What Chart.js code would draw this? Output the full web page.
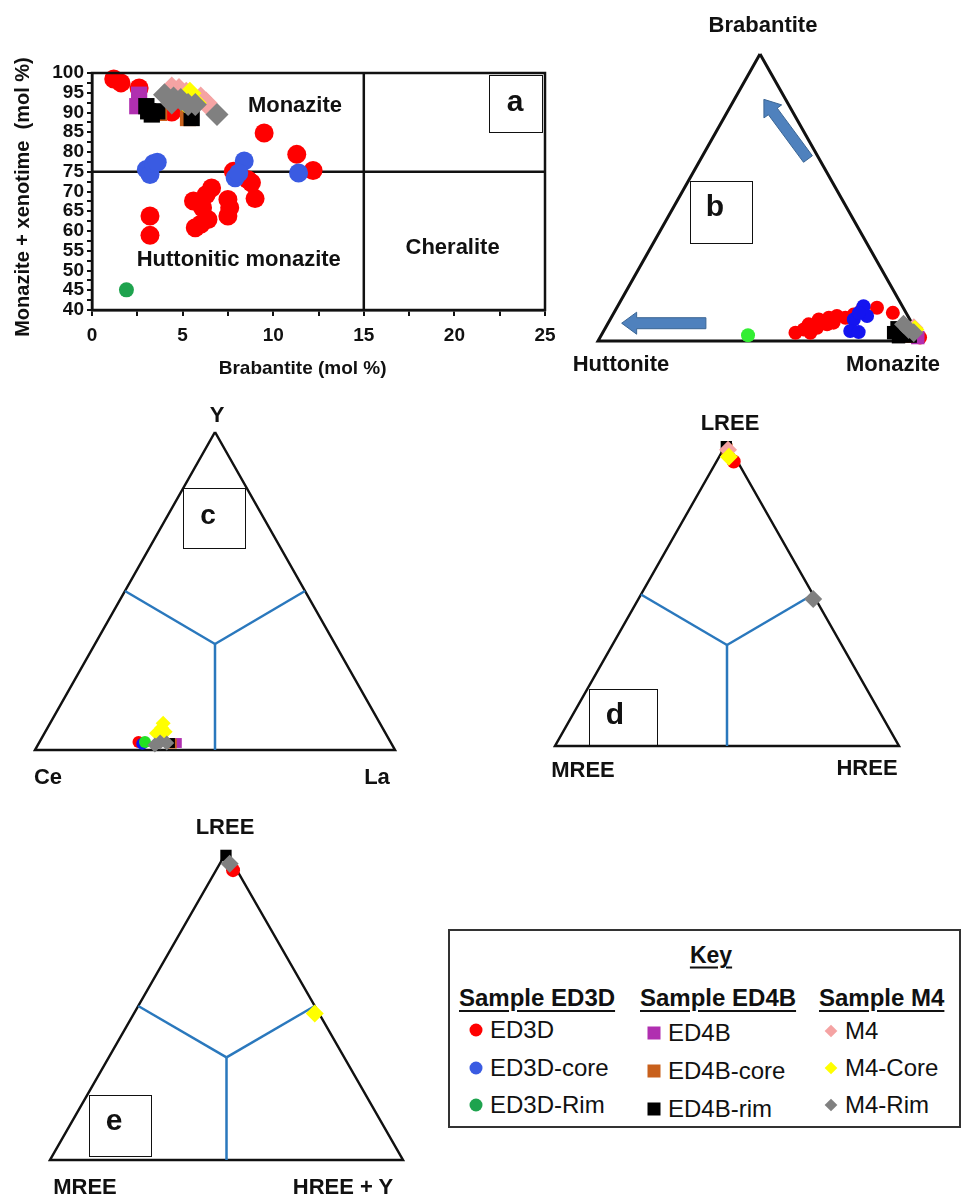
<!DOCTYPE html>
<html>
<head>
<meta charset="utf-8">
<script src="https://cdn.jsdelivr.net/npm/chart.js@4.4.1/dist/chart.umd.min.js"></script>
<style>
html,body{margin:0;padding:0;background:#fff;}
body{position:relative;width:964px;height:1197px;overflow:hidden;font-family:"Liberation Sans",Arial,Helvetica,sans-serif;color:#111;}
canvas{position:absolute;display:block;}
.t{position:absolute;white-space:nowrap;line-height:1;transform:translate(-50%,-50%);font-weight:bold;font-size:22px;}
.pbox{position:absolute;border:1.5px solid #111;box-sizing:border-box;}
.pl{position:absolute;font-weight:bold;font-size:30px;line-height:1;transform:translate(-50%,-50%);}
.k{position:absolute;white-space:nowrap;line-height:1;transform:translateY(-50%);font-size:24px;}
.kh{font-weight:bold;text-decoration:underline;text-decoration-thickness:2px;text-underline-offset:4px;}
.mk{position:absolute;transform:translate(-50%,-50%);}
</style>
</head>
<body>
<canvas id="ca" width="570" height="350" style="left:0;top:40px;width:570px;height:350px"></canvas>
<canvas id="cb" width="364" height="327" style="left:578px;top:34px;width:364px;height:327px"></canvas>
<canvas id="cc" width="400" height="358" style="left:15px;top:412px;width:400px;height:358px"></canvas>
<canvas id="cd" width="384" height="343" style="left:535px;top:423px;width:384px;height:343px"></canvas>
<canvas id="ce" width="393" height="348" style="left:30px;top:832px;width:393px;height:348px"></canvas>

<!-- panel letter boxes -->
<div class="pbox" style="left:489px;top:75px;width:54px;height:58px"></div><div class="pl" style="left:515px;top:101px">a</div>
<div class="pbox" style="left:690px;top:181px;width:63px;height:63px"></div><div class="pl" style="left:715px;top:206px">b</div>
<div class="pbox" style="left:183px;top:488px;width:63px;height:61px"></div><div class="pl" style="left:208px;top:515px;font-size:28px">c</div>
<div class="pbox" style="left:589px;top:689px;width:69px;height:57px"></div><div class="pl" style="left:615px;top:714px">d</div>
<div class="pbox" style="left:89px;top:1095px;width:63px;height:62px"></div><div class="pl" style="left:114px;top:1120px">e</div>

<!-- ternary vertex labels -->
<div class="t" style="left:763px;top:25px">Brabantite</div>
<div class="t" style="left:621px;top:364px">Huttonite</div>
<div class="t" style="left:893px;top:364px">Monazite</div>
<div class="t" style="left:217px;top:415px">Y</div>
<div class="t" style="left:48px;top:777px">Ce</div>
<div class="t" style="left:377px;top:777px">La</div>
<div class="t" style="left:730px;top:423px">LREE</div>
<div class="t" style="left:583px;top:770px">MREE</div>
<div class="t" style="left:867px;top:768px">HREE</div>
<div class="t" style="left:225px;top:827px">LREE</div>
<div class="t" style="left:85px;top:1187px">MREE</div>
<div class="t" style="left:343px;top:1187px">HREE + Y</div>

<!-- key -->
<div style="position:absolute;left:448px;top:929px;width:513px;height:199px;border:2px solid #333;box-sizing:border-box"></div>
<div class="k kh" style="left:711px;top:955px;transform:translate(-50%,-50%);font-size:23px">Key</div>
<div class="k kh" style="left:459px;top:998px">Sample ED3D</div>
<div class="k kh" style="left:640px;top:998px">Sample ED4B</div>
<div class="k kh" style="left:819px;top:998px">Sample M4</div>
<div id="keyItems"></div>

<script>
// ---------------- series definitions ----------------
const seriesNames  = ['ED3D','ED3D-core','ED3D-Rim','ED4B','ED4B-core','ED4B-rim','M4','M4-Core','M4-Rim'];
const seriesColors = ['#ff0000','#3a5be2','#1ea34e','#b02fb0','#c8601c','#000000','#f5a3a3','#ffff00','#808080'];
const seriesShapes = ['circle','circle','circle','rect','rect','rect','rectRot','rectRot','rectRot'];

// ---------------- panel a : Brabantite (x) vs Monazite + xenotime (y), mol % ----------------
const aX_ED3D  = [1.2,1.6,2.6,9.5,11.3,12.2,7.8,8.6,8.8,9.0,6.6,6.3,5.6,6.1,6.4,5.7,6.0,7.5,7.5,7.6,3.2,3.2,4.4];
const aY_ED3D  = [98.5,97.5,96.2,84.8,79.4,75.3,75.1,73.0,72.2,68.2,70.9,69.2,67.6,65.9,62.9,60.8,61.7,68.0,63.8,65.9,63.8,58.9,90.1];
const aX_ED3Dc = [3.0,3.2,3.4,3.6,8.4,7.9,8.1,11.4];
const aY_ED3Dc = [75.6,74.3,77.1,77.4,77.7,73.5,74.7,74.7];
const aX_ED3Dr = [1.9];
const aY_ED3Dr = [45.1];
const aX_ED4B  = [2.6,2.5];
const aY_ED4B  = [94.5,91.6];
const aX_ED4Bc = [5.3,3.7];
const aY_ED4Bc = [88.6,89.9];
const aX_ED4Br = [3.0,3.3,3.6,5.5,3.1];
const aY_ED4Br = [91.6,89.5,90.3,88.6,90.3];
const aX_M4    = [4.4,4.8,5.2,6.0,6.3];
const aY_M4    = [96.2,95.8,94.9,93.7,92.4];
const aX_M4c   = [5.4,5.7,5.1];
const aY_M4c   = [94.9,92.4,92.8];
const aX_M4r   = [4.0,4.5,4.9,5.7,6.9,4.4,5.3];
const aY_M4r   = [94.5,93.7,93.3,92.0,89.5,92.4,92.0];
const aXs = [aX_ED3D,aX_ED3Dc,aX_ED3Dr,aX_ED4B,aX_ED4Bc,aX_ED4Br,aX_M4,aX_M4c,aX_M4r];
const aYs = [aY_ED3D,aY_ED3Dc,aY_ED3Dr,aY_ED4B,aY_ED4Bc,aY_ED4Br,aY_M4,aY_M4c,aY_M4r];
const aFieldX = [15];   // Brabantite boundary
const aFieldY = [75];   // Monazite + xenotime boundary
const aXTicks = [0,5,10,15,20,25];
const aYTicks = [40,45,50,55,60,65,70,75,80,85,90,95,100];
const aFieldLabels = [
  {text:'Monazite', x:11.2, y:91.6},
  {text:'Huttonitic monazite', x:8.1, y:52.8},
  {text:'Cheralite', x:19.9, y:55.8}
];

// ---------------- panel b : [Brabantite, Huttonite, Monazite] % ----------------
const b_ED3D  = [[2.9,37.6,59.5],[2.9,33.0,64.1],[5.8,32.1,62.1],[7.5,28.1,64.4],[5.8,26.4,67.8],[8.1,24.7,67.2],[8.7,21.9,69.4],[8.1,19.6,72.3],[9.2,16.5,74.3],[11.0,13.0,76.0],[11.6,8.1,80.3],[9.8,4.1,86.1],[1.2,0.0,98.8],[4.6,30.1,65.3],[6.4,24.1,69.5],[4.0,34.5,61.5]];
const b_ED3Dc = [[12.1,12.0,75.9],[8.7,12.6,78.7],[7.5,17.3,75.2],[3.5,20.4,76.1],[3.1,18.0,78.9],[9.8,14.6,75.6]];
const b_ED3Dr = [[2.0,52.7,45.3]];
const b_ED4B  = [[1.2,0.7,98.1]];
const b_ED4Bc = [[1.7,3.8,94.5]];
const b_ED4Br = [[2.9,7.3,89.8],[4.6,5.4,90.0],[2.3,4.5,93.2],[1.7,2.8,95.5],[1.5,6.5,92.0]];
const b_M4    = [[4.6,0.2,95.2]];
const b_M4c   = [[4.0,0.2,95.8]];
const b_M4r   = [[5.8,2.8,91.4],[4.0,2.1,93.9],[2.9,1.1,96.0]];

// ---------------- panel c : [Y, Ce, La] % ----------------
const c_ED3D  = [[2.5,70.0,27.5]];
const c_ED3Dc = [[2.0,69.2,28.8]];
const c_ED3Dr = [[2.5,68.2,29.3]];
const c_ED4B  = [[2.2,59.5,38.3]];
const c_ED4Bc = [[2.0,61.0,37.0]];
const c_ED4Br = [[2.2,61.4,36.4]];
const c_M4    = [[3.0,63.5,33.5]];
const c_M4c   = [[6.9,61.4,31.7],[5.3,63.6,31.1],[5.7,61.0,33.3],[8.4,60.2,31.4]];
const c_M4r   = [[2.5,64.0,33.5],[2.2,62.3,35.5],[1.6,65.9,32.5]];

// ---------------- panel d : [LREE, MREE, HREE] % ----------------
const d_ED3D  = [[93.9,1.1,5.0]];
const d_ED4Bc = [[98.0,1.0,1.0]];
const d_ED4Br = [[98.8,0.8,0.4]];
const d_M4    = [[97.8,0.8,1.4]];
const d_M4c   = [[95.5,1.7,2.8]];
const d_M4r   = [[48.5,0.7,50.8]];

// ---------------- panel e : [LREE, MREE, HREE + Y] % ----------------
const e_ED3D  = [[94.1,1.1,4.8]];
const e_ED4Br = [[98.9,0.7,0.4]];
const e_M4c   = [[47.6,1.2,51.2]];
const e_M4r   = [[96.2,1.0,2.8]];

// ternary frame and field boundaries
const triVertices = [[100,0,0],[0,100,0],[0,0,100],[100,0,0]];
const fieldCentre = [100/3,100/3,100/3];
const fieldMidpoints = [[50,50,0],[50,0,50],[0,50,50]];

// ---------------- helpers ----------------
function tern(p){ const s=p[0]+p[1]+p[2]; return {x:p[2]/s + 0.5*p[0]/s, y:p[0]/s}; }

const framePlugin = {
  id:'frame',
  afterDatasetsDraw(chart){
    const {ctx, chartArea:a} = chart;
    ctx.save(); ctx.strokeStyle='#111'; ctx.lineWidth=2.5;
    ctx.strokeRect(a.left, a.top, a.right-a.left, a.bottom-a.top);
    ctx.restore();
  }
};
const fieldLabelPlugin = {
  id:'fieldLabels',
  afterDatasetsDraw(chart){
    const {ctx, scales:{x,y}} = chart;
    ctx.save(); ctx.fillStyle='#111'; ctx.font='bold 22px "Liberation Sans", Arial, sans-serif';
    ctx.textAlign='center'; ctx.textBaseline='middle';
    aFieldLabels.forEach(l=>ctx.fillText(l.text, x.getPixelForValue(l.x), y.getPixelForValue(l.y)));
    ctx.restore();
  }
};

// ---------------- panel a chart ----------------
const radiusA = {circle:9.5, rect:11.5, rectRot:11.5};
const aDatasets = [
  {data:[{x:aFieldX[0],y:40},{x:aFieldX[0],y:100}], showLine:true, borderColor:'#111', borderWidth:2.5, pointRadius:0, order:100},
  {data:[{x:0,y:aFieldY[0]},{x:25,y:aFieldY[0]}], showLine:true, borderColor:'#111', borderWidth:2.5, pointRadius:0, order:100}
];
seriesNames.forEach((n,i)=>{
  aDatasets.push({
    label:n, data:aXs[i].map((v,j)=>({x:v,y:aYs[i][j]})),
    pointStyle:seriesShapes[i], backgroundColor:seriesColors[i], borderWidth:0,
    pointRadius: (i===2?7.5:radiusA[seriesShapes[i]]), order: 20-i, clip:false
  });
});
const tickFont = {family:'"Liberation Sans", Arial, sans-serif', size:19, weight:'bold'};
new Chart(document.getElementById('ca'), {
  type:'scatter',
  data:{datasets:aDatasets},
  options:{
    responsive:false, animation:false, devicePixelRatio:1,
    layout:{padding:{top:33,right:25,bottom:6,left:8}},
    plugins:{legend:{display:false}, tooltip:{enabled:false}},
    scales:{
      x:{type:'linear', min:0, max:25,
        afterBuildTicks(s){ s.ticks = []; for(let v=0; v<=25; v+=2.5) s.ticks.push({value:v}); },
        ticks:{autoSkip:false, maxRotation:0, color:'#111', font:tickFont, padding:8,
          callback:v=> aXTicks.includes(v) ? String(v) : ''},
        grid:{drawOnChartArea:false, drawTicks:true, tickLength:6, color:'#111', lineWidth:2},
        border:{display:true, color:'#111', width:2.5},
        title:{display:true, text:'Brabantite (mol %)      ', color:'#111', font:{family:'"Liberation Sans", Arial, sans-serif', size:19, weight:'bold'}, padding:{top:2,bottom:4}},
        afterFit(s){ s.height = 74; }
      },
      y:{type:'linear', min:40, max:100,
        afterBuildTicks(s){ s.ticks = []; for(let v=40; v<=100; v+=2.5) s.ticks.push({value:v}); },
        ticks:{autoSkip:false, color:'#111', font:tickFont, padding:3,
          callback:v=> aYTicks.includes(v) ? String(v) : ''},
        grid:{drawOnChartArea:false, drawTicks:true, tickLength:5, color:'#111', lineWidth:2},
        border:{display:true, color:'#111', width:2.5},
        title:{display:true, text:'Monazite + xenotime  (mol %)  ', color:'#111', font:{family:'"Liberation Sans", Arial, sans-serif', size:20, weight:'bold'}, padding:{top:3,bottom:2}},
        afterFit(s){ s.width = 84; }
      }
    }
  },
  plugins:[framePlugin, fieldLabelPlugin]
});

// ---------------- ternary charts ----------------
function arrowPlugin(arrows){
  return {
    id:'arrows',
    afterDatasetsDraw(chart){
      const {ctx, scales:{x,y}} = chart;
      arrows.forEach(a=>{
        const x1=x.getPixelForValue(a.tail[0]), y1=y.getPixelForValue(a.tail[1]);
        const x2=x.getPixelForValue(a.tip[0]),  y2=y.getPixelForValue(a.tip[1]);
        const dx=x2-x1, dy=y2-y1, L=Math.hypot(dx,dy), ux=dx/L, uy=dy/L, px=-uy, py=ux;
        const sw=5.5, hw=11, hl=15, bx=x2-ux*hl, by=y2-uy*hl;
        ctx.save(); ctx.beginPath();
        ctx.moveTo(x1+px*sw,y1+py*sw); ctx.lineTo(bx+px*sw,by+py*sw); ctx.lineTo(bx+px*hw,by+py*hw);
        ctx.lineTo(x2,y2); ctx.lineTo(bx-px*hw,by-py*hw); ctx.lineTo(bx-px*sw,by-py*sw); ctx.lineTo(x1-px*sw,y1-py*sw);
        ctx.closePath(); ctx.fillStyle='#4f81bd'; ctx.fill(); ctx.strokeStyle='#3a6594'; ctx.lineWidth=1; ctx.stroke();
        ctx.restore();
      });
    }
  };
}
function ternChart(id, seriesData, opts){
  const ds = [{data:triVertices.map(tern), showLine:true, borderColor:'#111', borderWidth:opts.frameWidth, pointRadius:0, order:200, clip:false, borderJoinStyle:'miter'}];
  if (opts.fields){
    fieldMidpoints.forEach(m=>{
      ds.push({data:[tern(fieldCentre), tern(m)], showLine:true, borderColor:'#2a78bd', borderWidth:2.5, pointRadius:0, order:150, clip:false});
    });
  }
  seriesData.forEach((d,i)=>{
    if(!d) return;
    const col = (opts.colors && opts.colors[i]) || seriesColors[i];
    ds.push({label:seriesNames[i], data:d.map(tern), pointStyle:seriesShapes[i], backgroundColor:col, borderWidth:0,
      pointRadius:opts.radius[seriesShapes[i]], order:20-i, clip:false});
  });
  return new Chart(document.getElementById(id), {
    type:'scatter', data:{datasets:ds},
    options:{responsive:false, animation:false, devicePixelRatio:1,
      layout:{padding:20},
      plugins:{legend:{display:false}, tooltip:{enabled:false}},
      scales:{x:{type:'linear',min:0,max:1,display:false}, y:{type:'linear',min:0,max:1,display:false}}},
    plugins: opts.plugins || []
  });
}
const bArrows = [{tail:[0.648,0.634], tip:[0.512,0.842]}, {tail:[0.333,0.062], tip:[0.073,0.062]}];
ternChart('cb', [b_ED3D,b_ED3Dc,b_ED3Dr,b_ED4B,b_ED4Bc,b_ED4Br,b_M4,b_M4c,b_M4r],
  {frameWidth:3, fields:false, radius:{circle:7,rect:9.5,rectRot:9.5}, colors:[null,'#1414f0','#33ee33'], plugins:[arrowPlugin(bArrows)]});
ternChart('cc', [c_ED3D,c_ED3Dc,c_ED3Dr,c_ED4B,c_ED4Bc,c_ED4Br,c_M4,c_M4c,c_M4r],
  {frameWidth:2.5, fields:true, radius:{circle:6,rect:7,rectRot:7.5}, colors:[null,'#1414f0','#22e022']});
ternChart('cd', [d_ED3D,null,null,null,d_ED4Bc,d_ED4Br,d_M4,d_M4c,d_M4r],
  {frameWidth:2.5, fields:true, radius:{circle:7,rect:8,rectRot:9}});
ternChart('ce', [e_ED3D,null,null,null,null,e_ED4Br,null,e_M4c,e_M4r],
  {frameWidth:2.5, fields:true, radius:{circle:7,rect:8,rectRot:9}});

// ---------------- key ----------------
const keyColX = [476,654,831];
const keyRowY = [[1030,1068,1105],[1033,1071,1109],[1031,1068,1105]];
const keyHtml = [];
seriesNames.forEach((n,i)=>{
  const c = Math.floor(i/3), r = i%3, x = keyColX[c], y = keyRowY[c][r];
  let st = 'left:'+x+'px;top:'+y+'px;background:'+seriesColors[i]+';';
  if (seriesShapes[i]==='circle') st += 'width:13px;height:13px;border-radius:50%;';
  else if (seriesShapes[i]==='rect') st += 'width:13px;height:13px;';
  else st += 'width:9px;height:9px;transform:translate(-50%,-50%) rotate(45deg);';
  keyHtml.push('<div class="mk" style="'+st+'"></div>');
  keyHtml.push('<div class="k" style="left:'+(x+14)+'px;top:'+y+'px">'+n+'</div>');
});
document.getElementById('keyItems').innerHTML = keyHtml.join('');
</script>
</body>
</html>
